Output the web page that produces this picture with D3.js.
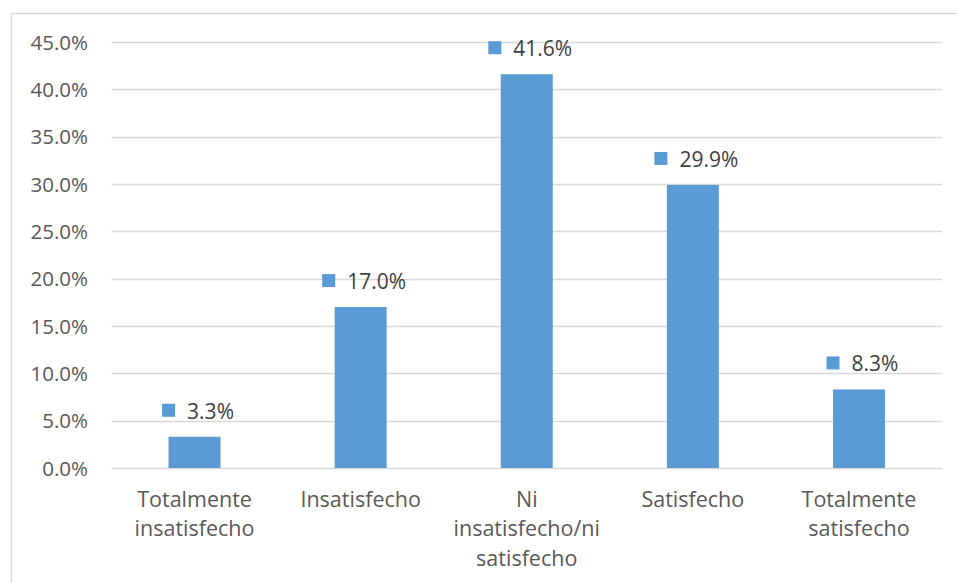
<!DOCTYPE html>
<html>
<head>
<meta charset="utf-8">
<script src="https://cdn.jsdelivr.net/npm/d3@7"></script>
<style>
  html, body { margin: 0; padding: 0; background: #fff; }
  svg { display: block; }
</style>
</head>
<body>
<svg id="chart" width="957" height="583"></svg>
<script>
const categories = [
  ["Totalmente", "insatisfecho"],
  ["Insatisfecho"],
  ["Ni", "insatisfecho/ni", "satisfecho"],
  ["Satisfecho"],
  ["Totalmente", "satisfecho"]
];
const values = [3.3, 17.0, 41.6, 29.9, 8.3];
const yTicks = [0, 5, 10, 15, 20, 25, 30, 35, 40, 45];

const W = 957, H = 583;
const margin = { left: 111.5, right: 15, top: 42, bottom: 115 };
const svg = d3.select("#chart");
const FONT = "'Open Sans', sans-serif";

// chart border
svg.append("rect")
  .attr("x", 11.5).attr("y", 13.5)
  .attr("width", 980).attr("height", 620)
  .attr("fill", "none").attr("stroke", "#d9d9d9").attr("stroke-width", 1.5);

const x = d3.scaleBand()
  .domain(d3.range(values.length))
  .range([margin.left, W - margin.right])
  .paddingInner(0.687).paddingOuter(0.3435);

const y = d3.scaleLinear().domain([0, 45]).range([468, 42]);

// gridlines
svg.append("g").selectAll("line").data(yTicks).join("line")
  .attr("x1", margin.left).attr("x2", W - margin.right)
  .attr("y1", d => Math.round(y(d)) + 0.5).attr("y2", d => Math.round(y(d)) + 0.5)
  .attr("stroke", "#d9d9d9").attr("stroke-width", 1.3);

// y axis labels
const yAxis = d3.axisLeft(y).tickValues(yTicks).tickSize(0).tickPadding(0)
  .tickFormat(d => d.toFixed(1) + "%");
const gy = svg.append("g").attr("transform", "translate(88,0)").call(yAxis);
gy.select(".domain").remove();
gy.selectAll("text")
  .attr("font-family", FONT).attr("font-size", "20.5px").attr("fill", "#595959")
  .attr("dy", "0.35em");

// bars
svg.append("g").selectAll("rect").data(values).join("rect")
  .attr("x", (d, i) => x(i))
  .attr("width", x.bandwidth())
  .attr("y", d => y(d))
  .attr("height", d => y(0) - y(d))
  .attr("fill", "#5b9bd5");

// data labels with square keys
const lab = svg.append("g").selectAll("g").data(values).join("g");
lab.each(function (d, i) {
  const g = d3.select(this);
  const t = g.append("text")
    .attr("font-family", FONT).attr("font-size", "21px").attr("fill", "#404040")
    .text(d.toFixed(1) + "%");
  const tw = t.node().getComputedTextLength();
  const sq = 13, gap = 12;
  const total = sq + gap + tw;
  const cx = x(i) + x.bandwidth() / 2 + 3.5;
  const x0 = cx - total / 2;
  const base = y(d) - 18;
  g.append("rect")
    .attr("x", x0).attr("y", base - 15)
    .attr("width", sq).attr("height", sq)
    .attr("fill", "#5b9bd5");
  t.attr("x", x0 + sq + gap).attr("y", base);
});

// category labels
const cat = svg.append("g").selectAll("text").data(categories).join("text")
  .attr("font-family", FONT).attr("font-size", "21.5px").attr("fill", "#595959")
  .attr("text-anchor", "middle");
cat.each(function (lines, i) {
  const t = d3.select(this);
  const cx = x(i) + x.bandwidth() / 2;
  lines.forEach((ln, k) => {
    t.append("tspan").attr("x", cx).attr("y", 507 + k * 29.3).text(ln);
  });
});
</script>
</body>
</html>
